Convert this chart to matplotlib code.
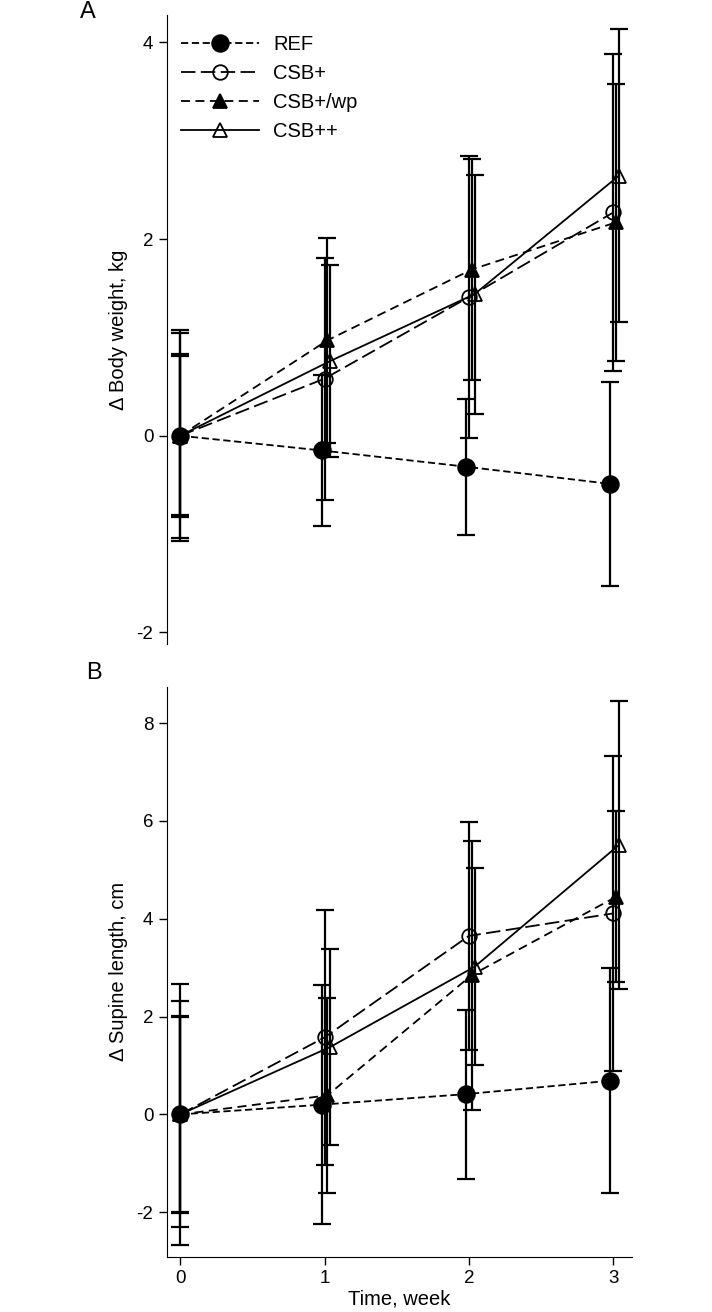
import numpy as np
import matplotlib
matplotlib.use("Agg")
import matplotlib.pyplot as plt

plt.rcParams['font.family'] = ['Liberation Sans', 'DejaVu Sans']
plt.rcParams['axes.unicode_minus'] = False

weeks = np.array([0, 1, 2, 3])
groups = ["REF", "CSB+", "CSB+/wp", "CSB++"]

# panel A: change in body weight, kg (mean and SD)
weight_mean = {
    "REF": [0, -0.15, -0.315, -0.49],
    "CSB+": [0, 0.58, 1.41, 2.27],
    "CSB+/wp": [0, 0.97, 1.69, 2.17],
    "CSB++": [0, 0.76, 1.44, 2.645],
}
weight_sd = {
    "REF": [1.07, 0.77, 0.69, 1.04],
    "CSB+": [0.83, 1.23, 1.43, 1.61],
    "CSB+/wp": [1.04, 1.045, 1.12, 1.41],
    "CSB++": [0.81, 0.98, 1.215, 1.49],
}

# panel B: change in supine length, cm (mean and SD)
length_mean = {
    "REF": [0, 0.2, 0.415, 0.69],
    "CSB+": [0, 1.575, 3.65, 4.11],
    "CSB+/wp": [0, 0.39, 2.85, 4.45],
    "CSB++": [0, 1.38, 3.02, 5.51],
}
length_sd = {
    "REF": [2.66, 2.45, 1.73, 2.3],
    "CSB+": [2.31, 2.6, 2.33, 3.22],
    "CSB+/wp": [2.02, 2.0, 2.75, 1.75],
    "CSB++": [2.0, 2.0, 2.01, 2.95],
}

styles = {
    "REF": dict(marker="o", mfc="black", ms=12, dashes=(4, 2), offset=-0.02),
    "CSB+": dict(marker="o", mfc="none", ms=10.5, dashes=(8, 3), offset=0.0),
    "CSB+/wp": dict(marker="^", mfc="black", ms=9.5, dashes=(5, 3), offset=0.02),
    "CSB++": dict(marker="^", mfc="none", ms=9.5, dashes=None, offset=0.04),
}


def draw_panel(ax, means, sds):
    for g in groups:
        st = styles[g]
        x = weeks + st["offset"] * (weeks > 0)
        ax.errorbar(x, means[g], yerr=sds[g], fmt="none", ecolor="black",
                    elinewidth=1.6, capsize=6.5, capthick=1.6, zorder=2)
        line, = ax.plot(x, means[g], color="black", lw=1.3, marker=st["marker"],
                        mfc=st["mfc"], mec="black", mew=1.3, ms=st["ms"],
                        label=g, zorder=3)
        if st["dashes"] is not None:
            line.set_dashes(st["dashes"])
    ax.set_xlim(-0.094, 3.13)
    ax.spines["top"].set_visible(False)
    ax.spines["right"].set_visible(False)
    ax.tick_params(axis="both", direction="out", length=5.5, width=1,
                   labelsize=13.5, pad=4)
    ax.yaxis.set_label_coords(-0.083, 0.5)


fig = plt.figure(figsize=(7.12, 13.12), dpi=100)
axA = fig.add_axes([0.234, 0.509, 0.6536, 0.4797])
axB = fig.add_axes([0.234, 0.0421, 0.6536, 0.4343])

draw_panel(axA, weight_mean, weight_sd)
axA.set_ylim(-2.12, 4.28)
axA.set_yticks([-2, 0, 2, 4])
axA.spines["bottom"].set_visible(False)
axA.set_xticks([])
axA.set_ylabel("Δ Body weight, kg", fontsize=14.5)
axA.legend(loc="upper left", bbox_to_anchor=(0.0, 0.99), frameon=False,
           fontsize=14.5, handlelength=3.9, handletextpad=0.7,
           labelspacing=0.5, borderaxespad=0.3)

draw_panel(axB, length_mean, length_sd)
axB.set_ylim(-2.91, 8.74)
axB.set_yticks([-2, 0, 2, 4, 6, 8])
axB.set_xticks(weeks)
axB.set_xlabel("Time, week", fontsize=14.5, labelpad=2)
axB.set_ylabel("Δ Supine length, cm", fontsize=14.5)

fig.text(0.124, 0.9908, "A", fontsize=17, ha="center", va="center")
fig.text(0.132, 0.487, "B", fontsize=17, ha="center", va="center")

fig.savefig("out.png", dpi=100)
